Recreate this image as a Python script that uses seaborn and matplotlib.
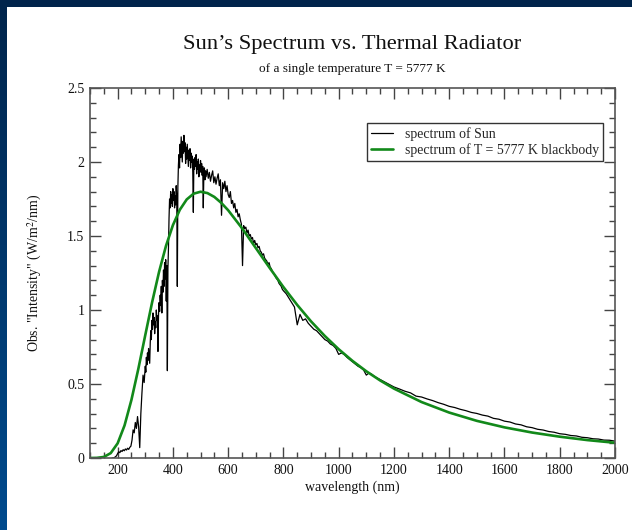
import numpy as np
import pandas as pd
import matplotlib
matplotlib.use("Agg")
import matplotlib.pyplot as plt
from matplotlib.colors import LinearSegmentedColormap
from matplotlib.patches import Rectangle
from matplotlib.ticker import MultipleLocator
import seaborn as sns

sns.set_theme(style="ticks")
plt.rcParams["font.family"] = ["Liberation Serif", "DejaVu Serif"]
plt.rcParams["mathtext.fontset"] = "stix"

# Observed solar spectrum: wavelength grid (nm), finer where absorption lines crowd
sun_nm = np.concatenate([
    np.arange(180, 300, 4),
    np.arange(300, 522, 2),
    np.arange(524, 804, 4),
    np.arange(810, 1210, 10),
    np.arange(1220, 2020, 20),
])

sun_flux = [
    # 180 - 296 nm
    0.000, 0.000, 0.003, 0.008, 0.015, 0.030, 0.042, 0.036, 0.050, 0.044,
    0.056, 0.049, 0.061, 0.054, 0.066, 0.058, 0.072, 0.080, 0.120, 0.190,
    0.170, 0.240, 0.200, 0.280, 0.210, 0.070, 0.300, 0.440, 0.560, 0.510,
    # 300 - 520 nm
    0.62, 0.58, 0.68, 0.63, 0.71, 0.66, 0.74, 0.69, 0.64, 0.78,
    0.86, 0.80, 0.93, 0.87, 0.98, 0.90, 0.95, 0.84, 0.92, 0.88,
    1.00, 0.93, 0.96, 0.72, 0.97, 1.05, 0.99, 1.10, 1.03, 1.16,
    0.98, 1.20, 1.12, 1.27, 1.16, 1.32, 1.21, 1.34, 1.06, 1.30,
    0.59, 1.28, 1.42, 1.62, 1.75, 1.69, 1.80, 1.72, 1.78, 1.70,
    1.82, 1.74, 1.80, 1.69, 1.77, 1.71, 1.84, 1.76, 1.16, 1.83,
    1.98, 2.05, 1.96, 2.12, 2.03, 2.17, 2.08, 2.00, 2.14, 2.06,
    2.18, 2.07, 2.13, 1.99, 2.10, 2.02, 2.12, 2.05, 1.97, 2.08,
    2.01, 2.09, 1.96, 2.06, 2.00, 2.04, 1.93, 1.66, 2.02, 1.95,
    2.03, 1.97, 2.05, 1.92, 2.00, 1.95, 2.02, 1.90, 1.98, 1.94,
    2.01, 1.93, 1.99, 1.91, 1.97, 1.69, 1.92, 1.96, 1.88, 1.94,
    1.90,
    # 524 - 800 nm
    1.95, 1.89, 1.93, 1.87, 1.91, 1.94, 1.86, 1.90, 1.85, 1.89,
    1.92, 1.84, 1.88, 1.64, 1.86, 1.82, 1.87, 1.80, 1.84, 1.78,
    1.76, 1.80, 1.72, 1.74, 1.69, 1.72, 1.66, 1.68, 1.63, 1.65,
    1.61, 1.58, 1.30, 1.57, 1.55, 1.56, 1.52, 1.54, 1.50, 1.51,
    1.48, 1.49, 1.45, 1.47, 1.44, 1.45, 1.42, 1.43, 1.40, 1.39,
    1.37, 1.38, 1.35, 1.34, 1.33, 1.31, 1.32, 1.29, 1.28, 1.26,
    1.25, 1.24, 1.22, 1.21, 1.20, 1.18, 1.17, 1.16, 1.14, 1.13,
    # 810 - 1200 nm
    1.11, 1.08, 1.05, 1.02, 0.90, 0.97, 0.93, 0.94, 0.91, 0.89,
    0.87, 0.86, 0.84, 0.82, 0.80, 0.79, 0.77, 0.76, 0.74, 0.70,
    0.71, 0.70, 0.68, 0.665, 0.65, 0.635, 0.62, 0.61, 0.595, 0.56,
    0.575, 0.565, 0.55, 0.54, 0.53, 0.52, 0.51, 0.50, 0.49, 0.48,
    # 1220 - 2000 nm
    0.466, 0.451, 0.440, 0.418, 0.412, 0.399, 0.388, 0.374, 0.363, 0.349,
    0.341, 0.329, 0.320, 0.308, 0.301, 0.290, 0.283, 0.268, 0.262, 0.249,
    0.243, 0.230, 0.224, 0.211, 0.205, 0.194, 0.189, 0.179, 0.174, 0.164,
    0.160, 0.152, 0.149, 0.140, 0.137, 0.130, 0.128, 0.121, 0.120, 0.114,
]

# 5777 K blackbody curve on the same intensity scale
bb_nm = [100, 125, 150, 175, 200, 225, 250, 275, 300, 325, 350, 375, 400,
         425, 450, 475, 500, 525, 550, 575, 600, 650, 700, 750, 800, 850,
         900, 950, 1000, 1050, 1100, 1150, 1200, 1300, 1400, 1500, 1600,
         1700, 1800, 1900, 2000]
bb_flux = [0.000, 0.001, 0.007, 0.033, 0.099, 0.220, 0.393, 0.603, 0.830,
           1.054, 1.258, 1.433, 1.573, 1.677, 1.747, 1.786, 1.799, 1.790,
           1.764, 1.724, 1.674, 1.553, 1.419, 1.285, 1.155, 1.034, 0.923,
           0.824, 0.735, 0.656, 0.586, 0.524, 0.469, 0.378, 0.307, 0.251,
           0.207, 0.172, 0.144, 0.121, 0.103]

x_ticks = [200, 400, 600, 800, 1000, 1200, 1400, 1600, 1800, 2000]
y_ticks = [0, 0.5, 1, 1.5, 2, 2.5]
y_tick_labels = ["0", "0.5", "1", "1.5", "2", "2.5"]

sun_df = pd.DataFrame({"wavelength": sun_nm, "intensity": sun_flux})
bb_df = pd.DataFrame({"wavelength": bb_nm, "intensity": bb_flux})

W, H = 632, 530
fig = plt.figure(figsize=(W / 100, H / 100), dpi=100)

# navy slide background with a white page on top
bg = fig.add_axes([0, 0, 1, 1])
bg.set_axis_off()
navy = LinearSegmentedColormap.from_list("navy", ["#01244b", "#004b8e"])
bg.imshow(np.linspace(0, 1, 256).reshape(-1, 1), cmap=navy, aspect="auto",
          extent=[0, 1, 0, 1], origin="upper")
bg.add_patch(Rectangle((7 / W, 0), 1 - 7 / W, (H - 7) / H,
                       transform=bg.transAxes, facecolor="white",
                       edgecolor="none"))
bg.set_xlim(0, 1)
bg.set_ylim(0, 1)

left, right, top, bottom = 90, 615, 88, 458
ax = fig.add_axes([left / W, (H - bottom) / H, (right - left) / W,
                   (bottom - top) / H])
ax.set_facecolor("white")

sns.lineplot(data=sun_df, x="wavelength", y="intensity", ax=ax,
             color="black", linewidth=0.9, estimator=None, sort=False,
             label="spectrum of Sun")
sns.lineplot(data=bb_df, x="wavelength", y="intensity", ax=ax,
             color="#12891a", linewidth=1.9, estimator=None, sort=False,
             label="spectrum of T = 5777 K blackbody")

ax.set_xlim(100, 2000)
ax.set_ylim(0, 2.5)
ax.set_xticks(x_ticks)
ax.set_xticklabels([str(t) for t in x_ticks])
ax.set_yticks(y_ticks)
ax.set_yticklabels(y_tick_labels)
ax.xaxis.set_minor_locator(MultipleLocator(50))
ax.yaxis.set_minor_locator(MultipleLocator(0.1))
ax.tick_params(which="both", direction="in", top=True, right=True,
               color="#444444", width=1.0, labelsize=10, labelcolor="#111111")
ax.tick_params(which="major", length=8, pad=4)
ax.tick_params(which="minor", length=4)
for s in ax.spines.values():
    s.set_color("#555555")
    s.set_linewidth(1.2)

ax.set_xlabel("wavelength (nm)", fontsize=10, labelpad=3, color="#111111")
ax.set_ylabel('Obs. "Intensity" (W/m$^{2}$/nm)', fontsize=10, labelpad=17,
              color="#111111")

leg = ax.legend(loc="upper right", bbox_to_anchor=(1 - 12 / 525, 1 - 35 / 370),
                fontsize=10, frameon=True, fancybox=False, framealpha=1,
                edgecolor="#333333", borderpad=0.3, labelspacing=0.15,
                handlelength=1.6, handletextpad=0.8, borderaxespad=0)
leg.get_frame().set_linewidth(1.0)

fig.text(352 / W, 1 - 45 / H, "Sun\u2019s Spectrum vs. Thermal Radiator",
         ha="center", va="center", fontsize=16.2, color="#111111")
fig.text(352 / W, 1 - 69 / H, "of a single temperature T = 5777 K",
         ha="center", va="center", fontsize=9.5, color="#111111")

fig.savefig("out.png", dpi=100)
